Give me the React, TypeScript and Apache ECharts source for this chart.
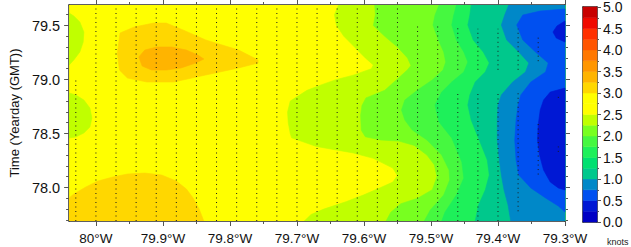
import React, { useEffect, useRef } from "react";
import * as echarts from "echarts";

const LON_MIN = -80.04;
const LON_MAX = -79.3;
const TIME_MIN = 77.69;
const TIME_MAX = 79.69;

const LON_TICK_LABELS = [-80.0, -79.9, -79.8, -79.7, -79.6, -79.5, -79.4, -79.3];
const LON_MINOR_TICKS = [-80.0, -79.95, -79.9, -79.85, -79.8, -79.75, -79.7, -79.65, -79.6, -79.55, -79.5, -79.45, -79.4, -79.35, -79.3];
const TIME_TICK_LABELS = [78.0, 78.5, 79.0, 79.5];
const TIME_MINOR_TICKS = [77.7, 77.8, 77.9, 78.0, 78.1, 78.2, 78.3, 78.4, 78.5, 78.6, 78.7, 78.8, 78.9, 79.0, 79.1, 79.2, 79.3, 79.4, 79.5, 79.6];

const SPEED_LEVELS = [0, 0.25, 0.5, 0.75, 1.0, 1.25, 1.5, 1.75, 2.0, 2.25, 2.5, 2.75, 3.0, 3.25, 3.5, 3.75, 4.0, 4.25, 4.5, 4.75, 5.0];
const SPEED_COLORS = [
  "#0000C4", "#0018D4", "#0050F0", "#0088C8", "#00C88C", "#00E070", "#1EF05A", "#46F840", "#78FF20", "#C0FF00",
  "#FFFF00", "#FFFF00", "#FFD700", "#FFB400", "#FF9600", "#FF7800", "#FF5500", "#FF3000", "#F00A00", "#C80000",
];

// contour boundaries [lon, yearday], from top to bottom
const EDGE_2_50 = [[-79.638,79.69],[-79.644,79.60],[-79.641,79.50],[-79.630,79.40],[-79.614,79.30],[-79.598,79.20],[-79.586,79.134],[-79.589,79.10],[-79.616,79.04],[-79.641,79.00],[-79.664,78.95],[-79.685,78.90],[-79.710,78.80],[-79.714,78.70],[-79.713,78.60],[-79.710,78.50],[-79.708,78.46],[-79.671,78.38],[-79.616,78.32],[-79.586,78.27],[-79.557,78.18],[-79.550,78.11],[-79.557,78.05],[-79.575,78.00],[-79.601,77.93],[-79.626,77.87],[-79.660,77.80],[-79.679,77.75],[-79.689,77.69]];
const EDGE_2_25 = [[-79.584,79.69],[-79.583,79.60],[-79.586,79.50],[-79.569,79.40],[-79.550,79.30],[-79.535,79.20],[-79.530,79.13],[-79.535,79.09],[-79.551,79.00],[-79.569,78.90],[-79.597,78.83],[-79.603,78.76],[-79.605,78.67],[-79.604,78.53],[-79.598,78.47],[-79.575,78.44],[-79.548,78.43],[-79.525,78.39],[-79.506,78.30],[-79.495,78.21],[-79.491,78.10],[-79.498,77.98],[-79.520,77.90],[-79.545,77.85],[-79.560,77.77],[-79.567,77.69]];
const EDGE_2_00 = [[-79.488,79.69],[-79.494,79.597],[-79.497,79.505],[-79.489,79.366],[-79.481,79.255],[-79.478,79.162],[-79.482,79.088],[-79.498,78.996],[-79.520,78.903],[-79.539,78.810],[-79.544,78.718],[-79.539,78.625],[-79.528,78.533],[-79.506,78.440],[-79.484,78.301],[-79.473,78.162],[-79.472,78.070],[-79.481,77.931],[-79.501,77.792],[-79.510,77.69]];
const EDGE_1_75 = [[-79.462,79.69],[-79.466,79.597],[-79.469,79.505],[-79.462,79.366],[-79.451,79.255],[-79.445,79.162],[-79.451,79.070],[-79.469,78.977],[-79.484,78.884],[-79.494,78.764],[-79.488,78.607],[-79.469,78.459],[-79.454,78.236],[-79.451,78.088],[-79.462,77.931],[-79.479,77.773],[-79.484,77.69]];
const EDGE_1_25 = [[-79.440,79.69],[-79.442,79.597],[-79.445,79.505],[-79.437,79.366],[-79.422,79.255],[-79.413,79.153],[-79.419,79.070],[-79.434,78.977],[-79.442,78.857],[-79.445,78.764],[-79.440,78.625],[-79.428,78.440],[-79.416,78.255],[-79.413,78.116],[-79.419,77.977],[-79.429,77.838],[-79.434,77.69]];
const EDGE_1_00 = [[-79.384,79.69],[-79.390,79.597],[-79.395,79.505],[-79.387,79.366],[-79.369,79.255],[-79.354,79.153],[-79.359,79.070],[-79.378,78.977],[-79.395,78.857],[-79.400,78.764],[-79.401,78.625],[-79.401,78.440],[-79.398,78.255],[-79.395,78.116],[-79.391,77.977],[-79.385,77.838],[-79.381,77.69]];
const REGION_0_75 = [[-79.30,79.653],[-79.337,79.634],[-79.363,79.597],[-79.372,79.505],[-79.363,79.366],[-79.344,79.255],[-79.325,79.153],[-79.329,79.070],[-79.351,78.977],[-79.366,78.857],[-79.370,78.764],[-79.373,78.625],[-79.375,78.440],[-79.373,78.255],[-79.369,78.116],[-79.351,77.996],[-79.329,77.903],[-79.310,77.829],[-79.30,77.773]];
const REGION_0_50_A = [[-79.30,78.921],[-79.322,78.884],[-79.332,78.810],[-79.337,78.718],[-79.340,78.579],[-79.341,78.440],[-79.338,78.301],[-79.332,78.162],[-79.322,78.051],[-79.310,77.996],[-79.30,77.977]];
const REGION_0_50_B = [[-79.30,79.542],[-79.312,79.496],[-79.318,79.440],[-79.313,79.384],[-79.30,79.347]];

const BLOB_LOW_TOP = [[-80.04,79.616],[-80.033,79.588],[-80.024,79.533],[-80.018,79.440],[-80.019,79.347],[-80.024,79.255],[-80.033,79.181],[-80.04,79.134]];
const BLOB_LOW_MID = [[-80.04,78.875],[-80.030,78.857],[-80.018,78.810],[-80.009,78.736],[-80.006,78.644],[-80.009,78.560],[-80.018,78.505],[-80.030,78.468],[-80.04,78.459]];
const BLOB_HIGH_OUTER = [[-79.964,79.431],[-79.943,79.486],[-79.914,79.523],[-79.895,79.523],[-79.870,79.459],[-79.836,79.366],[-79.787,79.273],[-79.758,79.181],[-79.758,79.153],[-79.787,79.107],[-79.836,79.042],[-79.884,78.977],[-79.924,78.977],[-79.953,79.014],[-79.965,79.088],[-79.968,79.246]];
const BLOB_HIGH_INNER = [[-79.936,79.209],[-79.927,79.273],[-79.909,79.301],[-79.887,79.301],[-79.865,79.273],[-79.848,79.227],[-79.839,79.190],[-79.851,79.153],[-79.873,79.107],[-79.895,79.088],[-79.917,79.088],[-79.931,79.125]];
const BLOB_HIGH_BOTTOM = [[-80.04,77.69],[-80.04,77.903],[-80.033,77.940],[-80.015,78.005],[-79.997,78.060],[-79.975,78.097],[-79.953,78.125],[-79.927,78.134],[-79.902,78.116],[-79.880,78.060],[-79.865,77.986],[-79.855,77.903],[-79.846,77.801],[-79.839,77.69]];

// sample columns (dotted)
const COLUMN_LONS = [-80.03, -80.0, -79.97, -79.94, -79.91, -79.88, -79.85, -79.82, -79.79, -79.76, -79.73, -79.70, -79.67, -79.64, -79.61, -79.58, -79.55, -79.52, -79.49, -79.46, -79.43, -79.40, -79.37, -79.34, -79.31];
const FULL = [[77.69, 79.69]];
const COLUMN_SEGMENTS = [
  [[77.69, 79.0]], FULL, FULL, FULL, FULL, FULL, FULL, FULL, FULL, FULL, FULL, FULL, FULL, FULL, FULL, FULL, FULL,
  [[77.69, 79.5]], [[77.69, 79.5]],
  [[77.69, 78.88], [79.09, 79.5]],
  [[77.69, 78.88], [79.09, 79.47]],
  [[77.69, 78.88], [79.09, 79.47]],
  [[77.78, 78.88], [79.09, 79.47]],
  [[78.12, 78.6], [79.17, 79.42]],
  [[78.33, 78.38], [78.83, 78.85]],
];

const toRight = (edge: number[][]) => [...edge, [LON_MAX, TIME_MIN], [LON_MAX, TIME_MAX]];

const FILL_LAYERS = [
  { points: [[LON_MIN, TIME_MAX], [LON_MAX, TIME_MAX], [LON_MAX, TIME_MIN], [LON_MIN, TIME_MIN]], color: SPEED_COLORS[10] },
  { points: BLOB_LOW_TOP, color: SPEED_COLORS[9] },
  { points: BLOB_LOW_MID, color: SPEED_COLORS[9] },
  { points: BLOB_HIGH_OUTER, color: SPEED_COLORS[12] },
  { points: BLOB_HIGH_INNER, color: SPEED_COLORS[13] },
  { points: BLOB_HIGH_BOTTOM, color: SPEED_COLORS[12] },
  { points: toRight(EDGE_2_50), color: SPEED_COLORS[9] },
  { points: toRight(EDGE_2_25), color: SPEED_COLORS[8] },
  { points: toRight(EDGE_2_00), color: SPEED_COLORS[7] },
  { points: toRight(EDGE_1_75), color: SPEED_COLORS[6] },
  { points: toRight(EDGE_1_25), color: SPEED_COLORS[4] },
  { points: toRight(EDGE_1_00), color: SPEED_COLORS[3] },
  { points: REGION_0_75, color: SPEED_COLORS[2] },
  { points: REGION_0_50_A, color: SPEED_COLORS[1] },
  { points: REGION_0_50_B, color: SPEED_COLORS[1] },
];

const FONT = "Liberation Sans, Arial, Helvetica, sans-serif";
const FRAME = { show: true, onZero: false, lineStyle: { color: "#2b2b2b", width: 1.5 } };
const TICK_STYLE = { color: "#555", width: 1 };

export default function App() {
  const ref = useRef<HTMLDivElement>(null);
  useEffect(() => {
    if (!ref.current) return;
    const chart = echarts.init(ref.current, null, { renderer: "svg" });

    const dotSeries: any[] = [];
    COLUMN_LONS.forEach((lon, k) => {
      COLUMN_SEGMENTS[k].forEach(([t0, t1]) => {
        dotSeries.push({
          type: "line", xAxisIndex: 0, yAxisIndex: 0, silent: true, symbol: "none", z: 5,
          data: [[lon, t0], [lon, t1]],
          lineStyle: { color: "#1a1a1a", width: 1, type: [1, 3.5] },
        });
      });
    });

    const lonFmt = (v: number) => {
      const a = Math.abs(v);
      return (Math.abs(a - 80) < 1e-6 ? "80" : a.toFixed(1)) + "°W";
    };

    const mainX = (pos: string, ticks: number[], len: number, labels: boolean, line: boolean) => ({
      type: "value", gridIndex: 0, min: LON_MIN, max: LON_MAX, position: pos,
      axisLine: line ? FRAME : { show: false },
      axisTick: { show: true, length: len, customValues: ticks, lineStyle: TICK_STYLE },
      axisLabel: labels
        ? { show: true, customValues: LON_TICK_LABELS, formatter: lonFmt, margin: 10, fontSize: 13.5, color: "#111", fontFamily: FONT }
        : { show: false },
      splitLine: { show: false },
    });
    const mainY = (pos: string, ticks: number[], len: number, labels: boolean, line: boolean) => ({
      type: "value", gridIndex: 0, min: TIME_MIN, max: TIME_MAX, position: pos,
      axisLine: line ? FRAME : { show: false },
      axisTick: { show: true, length: len, customValues: ticks, lineStyle: TICK_STYLE },
      axisLabel: labels
        ? { show: true, customValues: TIME_TICK_LABELS, formatter: (v: number) => v.toFixed(1), margin: 9, fontSize: 14.5, color: "#111", fontFamily: FONT }
        : { show: false },
      splitLine: { show: false },
      ...(labels ? {
        name: "Time (Yearday (GMT))", nameLocation: "middle", nameGap: 46, nameRotate: 90,
        nameTextStyle: { fontSize: 13, color: "#111", fontFamily: FONT },
      } : {}),
    });

    chart.setOption({
      animation: false,
      backgroundColor: "#ffffff",
      grid: [
        { left: 61, top: 5, width: 504, height: 216, containLabel: false },
        { left: 583, top: 6, width: 14, height: 216, containLabel: false },
      ],
      xAxis: [
        mainX("bottom", LON_TICK_LABELS, 5, true, true),
        mainX("top", LON_TICK_LABELS, 5, false, true),
        mainX("bottom", LON_MINOR_TICKS, 3, false, false),
        mainX("top", LON_MINOR_TICKS, 3, false, false),
        { type: "value", gridIndex: 1, min: 0, max: 1, position: "bottom", axisLine: FRAME, axisTick: { show: false }, axisLabel: { show: false }, splitLine: { show: false } },
        { type: "value", gridIndex: 1, min: 0, max: 1, position: "top", axisLine: FRAME, axisTick: { show: false }, axisLabel: { show: false }, splitLine: { show: false } },
      ],
      yAxis: [
        mainY("left", TIME_TICK_LABELS, 5, true, true),
        mainY("right", TIME_TICK_LABELS, 5, false, true),
        mainY("left", TIME_MINOR_TICKS, 3, false, false),
        mainY("right", TIME_MINOR_TICKS, 3, false, false),
        {
          type: "value", gridIndex: 1, min: 0, max: 5, interval: 0.5, position: "right",
          axisLine: FRAME,
          axisTick: { show: true, length: 4, lineStyle: TICK_STYLE },
          minorTick: { show: true, splitNumber: 2, length: 2, lineStyle: TICK_STYLE },
          axisLabel: { show: true, formatter: (v: number) => v.toFixed(1), margin: 6, fontSize: 14, color: "#111", fontFamily: FONT },
          splitLine: { show: false },
        },
        { type: "value", gridIndex: 1, min: 0, max: 5, position: "left", axisLine: FRAME, axisTick: { show: false }, axisLabel: { show: false }, splitLine: { show: false } },
      ],
      graphic: [
        { type: "text", left: 607, top: 237, style: { text: "knots", fontSize: 9, fill: "#222", fontFamily: FONT } },
      ],
      series: [
        {
          type: "custom", xAxisIndex: 0, yAxisIndex: 0, silent: true, clip: true, z: 1,
          data: FILL_LAYERS.map((l) => l.points[0]),
          renderItem: (params: any, api: any) => {
            const layer = FILL_LAYERS[params.dataIndex];
            return {
              type: "polygon",
              shape: { points: layer.points.map((p) => api.coord(p)) },
              style: { fill: layer.color, stroke: layer.color, lineWidth: 0.6 },
            };
          },
        },
        ...dotSeries,
        {
          type: "custom", xAxisIndex: 4, yAxisIndex: 4, silent: true, z: 1,
          data: SPEED_COLORS.map((_, i) => [SPEED_LEVELS[i], SPEED_LEVELS[i + 1]]),
          renderItem: (params: any, api: any) => {
            const lo = api.value(0);
            const hi = api.value(1);
            const p0 = api.coord([0, lo]);
            const p1 = api.coord([1, hi]);
            return {
              type: "rect",
              shape: { x: p0[0], y: p1[1], width: p1[0] - p0[0], height: p0[1] - p1[1] },
              style: { fill: SPEED_COLORS[params.dataIndex], stroke: SPEED_COLORS[params.dataIndex], lineWidth: 0.5 },
            };
          },
        },
      ],
    });
    return () => chart.dispose();
  }, []);
  return <div ref={ref} style={{ position: "fixed", left: 0, top: 0, width: 631, height: 247 }} />;
}
